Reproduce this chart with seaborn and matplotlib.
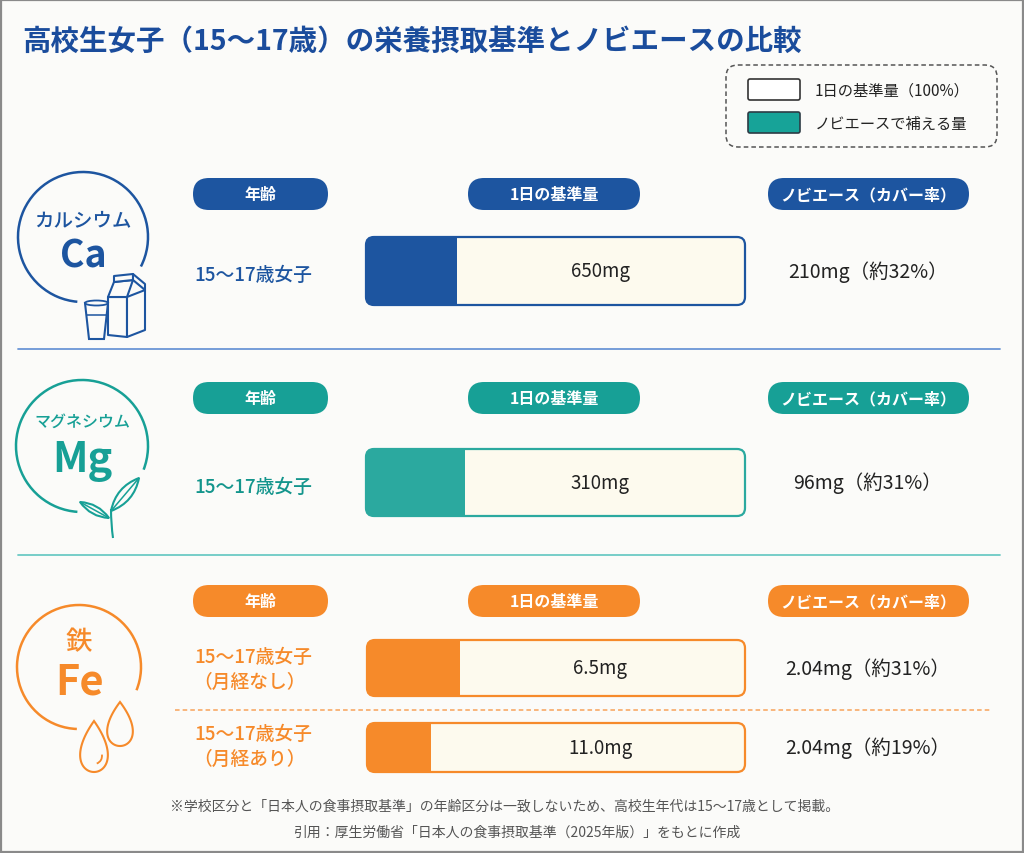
import numpy as np
import pandas as pd
import matplotlib
matplotlib.use("Agg")
import matplotlib.pyplot as plt
import seaborn as sns
from matplotlib.patches import FancyBboxPatch, Arc, Polygon, Rectangle, Ellipse, PathPatch
from matplotlib.path import Path

# ---------------- data ----------------
title = "高校生女子（15〜17歳）の栄養摂取基準とノビエースの比較"
nutrient_names = ["カルシウム", "マグネシウム", "鉄"]
nutrient_symbols = ["Ca", "Mg", "Fe"]
header_labels = ["年齢", "1日の基準量", "ノビエース（カバー率）"]
legend_labels = ["1日の基準量（100%）", "ノビエースで補える量"]

row_keys = ["Ca", "Mg", "Fe_none", "Fe_with"]
row_line1 = ["15〜17歳女子", "15〜17歳女子", "15〜17歳女子", "15〜17歳女子"]
row_line2 = ["", "", "（月経なし）", "（月経あり）"]
daily_labels = ["650mg", "310mg", "6.5mg", "11.0mg"]
nobiace_labels = ["210mg", "96mg", "2.04mg", "2.04mg"]
coverage_pct = [32, 31, 31, 19]
# filled share of each bar as drawn in the picture
bar_fill_share = [0.24, 0.26, 0.245, 0.17]
bar_full_share = [1.0, 1.0, 1.0, 1.0]

footnotes = [
    "※学校区分と「日本人の食事摂取基準」の年齢区分は一致しないため、高校生年代は15〜17歳として掲載。",
    "引用：厚生労働省「日本人の食事摂取基準（2025年版）」をもとに作成",
]

# ---------------- style ----------------
sns.set_theme(style="white")
plt.rcParams['font.family'] = ['Noto Sans CJK JP', 'DejaVu Sans']

W, H = 1024, 854
BG = "#FBFBF9"
CREAM = "#FDFAEE"
BLUE = "#1D55A0"
TEAL = "#17A096"
TEAL_BAR = "#2BA99F"
ORANGE = "#F68A2A"
TEXT = "#222222"
section_colors = [BLUE, TEAL, ORANGE]
bar_colors = [BLUE, TEAL_BAR, ORANGE, ORANGE]
row_section = [0, 1, 2, 2]

fig = plt.figure(figsize=(W / 100, H / 100), dpi=100, facecolor=BG)
ax = fig.add_axes([0, 0, 1, 1], zorder=5)
ax.patch.set_visible(False)
ax.set_xlim(0, W)
ax.set_ylim(H, 0)
ax.axis("off")

# frame
ax.add_patch(Rectangle((0.8, 0.8), W - 1.6, H - 1.6, fill=False, ec="#8a8a8a", lw=1.6))

# title
ax.text(22, 42, title, fontsize=20.5, fontweight="bold", color="#1A4C9C",
        ha="left", va="center")

# legend
ax.add_patch(FancyBboxPatch((726, 66), 271, 82, boxstyle="round,pad=0,rounding_size=12",
                            fill=False, ec="#555555", lw=1.1, ls=(0, (3, 2))))
ax.add_patch(FancyBboxPatch((748, 80), 52, 21, boxstyle="round,pad=0,rounding_size=2",
                            fc="#FFFFFF", ec="#333333", lw=1.2))
ax.add_patch(FancyBboxPatch((748, 113), 52, 21, boxstyle="round,pad=0,rounding_size=2",
                            fc="#17A398", ec="#2d3b45", lw=1.2))
ax.text(815, 91, legend_labels[0], fontsize=11, color=TEXT, ha="left", va="center")
ax.text(815, 124, legend_labels[1], fontsize=11, color=TEXT, ha="left", va="center")

# headers (pills)
pill_x = [(193, 135), (468, 172), (768, 201)]
pill_yc = [195, 399, 602]
for s in range(3):
    for j, (px, pw) in enumerate(pill_x):
        ax.add_patch(FancyBboxPatch((px, pill_yc[s] - 16), pw, 32,
                                    boxstyle="round,pad=0,rounding_size=16",
                                    fc=section_colors[s], ec="none"))
        ax.text(px + pw / 2, pill_yc[s], header_labels[j], fontsize=11.5,
                fontweight="bold", color="white", ha="center", va="center")

# bars
bar_geo = [(366, 238, 745, 306), (366, 450, 745, 517), (367, 641, 745, 697), (367, 724, 745, 773)]
label_y = [(275, None), (487, None), (657, 682), (734, 759)]
for i, key in enumerate(row_keys):
    x0, y0, x1, y1 = bar_geo[i]
    w, h = x1 - x0, y1 - y0
    bax = fig.add_axes([x0 / W, 1 - y1 / H, w / W, h / H], zorder=1)
    bax.patch.set_visible(False)
    df_full = pd.DataFrame({"row": [key], "share": [bar_full_share[i]]})
    df_fill = pd.DataFrame({"row": [key], "share": [bar_fill_share[i]]})
    sns.barplot(data=df_full, x="share", y="row", orient="h", color=CREAM,
                saturation=1, width=1.0, errorbar=None, linewidth=0, ax=bax)
    sns.barplot(data=df_fill, x="share", y="row", orient="h", color=bar_colors[i],
                saturation=1, width=1.0, errorbar=None, linewidth=0, ax=bax)
    bax.set_xlim(0, 1)
    bax.set_ylim(0.5, -0.5)
    bax.axis("off")
    clip = FancyBboxPatch((x0, y0), w, h, boxstyle="round,pad=0,rounding_size=8",
                          transform=ax.transData)
    for p in bax.patches:
        p.set_clip_path(clip)
    ax.add_patch(FancyBboxPatch((x0, y0), w, h, boxstyle="round,pad=0,rounding_size=8",
                                fill=False, ec=bar_colors[i], lw=1.6))
    yc = (y0 + y1) / 2
    ax.text(600, yc, daily_labels[i], fontsize=13.5, color=TEXT, ha="center", va="center")
    ax.text(868, yc, f"{nobiace_labels[i]}（約{coverage_pct[i]}%）", fontsize=14,
            color=TEXT, ha="center", va="center")
    col = section_colors[row_section[i]]
    lab_col = "#13958C" if row_section[i] == 1 else col
    ly1, ly2 = label_y[i]
    ax.text(253, ly1, row_line1[i], fontsize=13.5, fontweight="medium", color=lab_col,
            ha="center", va="center")
    if ly2 is not None:
        ax.text(250, ly2, row_line2[i], fontsize=13.5, fontweight="medium", color=lab_col,
                ha="center", va="center")

# separators
ax.plot([18, 1000], [350, 350], color="#6A96D6", lw=1.3)
ax.plot([18, 1000], [556, 556], color="#6CCAC4", lw=1.3)
ax.plot([175, 990], [711, 711], color="#F8A35A", lw=1.1, ls=(0, (3, 2)))

# ---------------- icons ----------------
# Calcium
ax.add_patch(Arc((83, 238), 130, 130, theta1=95, theta2=387, color=BLUE, lw=1.8))
ax.text(83, 221, nutrient_names[0], fontsize=14, fontweight="medium", color=BLUE,
        ha="center", va="center")
ax.text(83, 256, nutrient_symbols[0], fontsize=27, fontweight="bold", color=BLUE,
        ha="center", va="center")
# milk carton
carton_front = [(108, 298), (108, 336), (127, 338), (127, 298)]
carton_side = [(127, 298), (145, 291), (145, 331), (127, 338)]
carton_top = [(108, 298), (114, 283), (133, 281), (127, 298)]
carton_fin = [(114, 283), (114, 277), (133, 275), (133, 281)]
carton_roof = [(133, 281), (145, 291), (145, 285), (133, 275)]
for poly in [carton_front, carton_side, carton_top, carton_fin, carton_roof]:
    ax.add_patch(Polygon(poly, closed=True, fc=BG, ec=BLUE, lw=1.5, joinstyle="round"))
# glass
ax.add_patch(Polygon([(85, 304), (108, 304), (104, 340), (89, 340)], closed=True,
                     fc=BG, ec=BLUE, lw=1.5))
ax.add_patch(Ellipse((96.5, 304), 23, 5, fc=BG, ec=BLUE, lw=1.3))
ax.plot([86.5, 106.5], [316, 316], color=BLUE, lw=1.1)

# Magnesium
ax.add_patch(Arc((82, 447), 132, 132, theta1=94, theta2=381, color=TEAL, lw=1.8))
ax.text(82, 422, nutrient_names[1], fontsize=11.5, fontweight="medium", color=TEAL,
        ha="center", va="center")
ax.text(82, 461, nutrient_symbols[1], fontsize=30, fontweight="bold", color=TEAL,
        ha="center", va="center")


def leaf(base, tip, bulge, color):
    b = np.array(base, float)
    t = np.array(tip, float)
    m = (b + t) / 2
    d = t - b
    n = np.array([-d[1], d[0]]) / np.hypot(*d) * bulge
    verts = [b, m + n, t, m - n, b]
    codes = [Path.MOVETO, Path.CURVE3, Path.CURVE3, Path.CURVE3, Path.CURVE3]
    ax.add_patch(PathPatch(Path(verts, codes), fc=BG, ec=color, lw=1.5))
    ax.plot([b[0], t[0]], [b[1], t[1]], color=color, lw=1.1)


leaf((111, 512), (139, 479), 12, TEAL)
leaf((109, 519), (80, 503), 8, TEAL)
ax.add_patch(PathPatch(Path([(113, 539), (111, 525), (111, 510)],
                            [Path.MOVETO, Path.CURVE3, Path.CURVE3]),
                       fill=False, ec=TEAL, lw=1.5))

# Iron
ax.add_patch(Arc((79, 668), 124, 124, theta1=92, theta2=382, color=ORANGE, lw=1.8))
ax.text(79, 643, nutrient_names[2], fontsize=19, fontweight="medium", color=ORANGE,
        ha="center", va="center")
ax.text(80, 683, nutrient_symbols[2], fontsize=30, fontweight="bold", color=ORANGE,
        ha="center", va="center")


def drop(cx, ytip, ybot, half_w, color):
    t = np.linspace(0, 2 * np.pi, 160)
    hgt = ybot - ytip
    xs = cx + half_w / 0.75 * np.sin(t) * np.sin(t / 2)
    ys = ytip + hgt * (1 - np.cos(t)) / 2
    ax.add_patch(Polygon(np.column_stack([xs, ys]), closed=True, fc=BG, ec=color, lw=1.5))


drop(120, 703, 747, 12.5, ORANGE)
drop(94, 722, 773, 13.5, ORANGE)
ax.add_patch(Arc((94, 757), 16, 16, theta1=-10, theta2=70, color=ORANGE, lw=1.3))

# footnotes
ax.text(505, 807, footnotes[0], fontsize=10, color="#555555", ha="center", va="center")
ax.text(517, 833, footnotes[1], fontsize=10, color="#555555", ha="center", va="center")

fig.savefig("out.png", dpi=100, facecolor=BG)
